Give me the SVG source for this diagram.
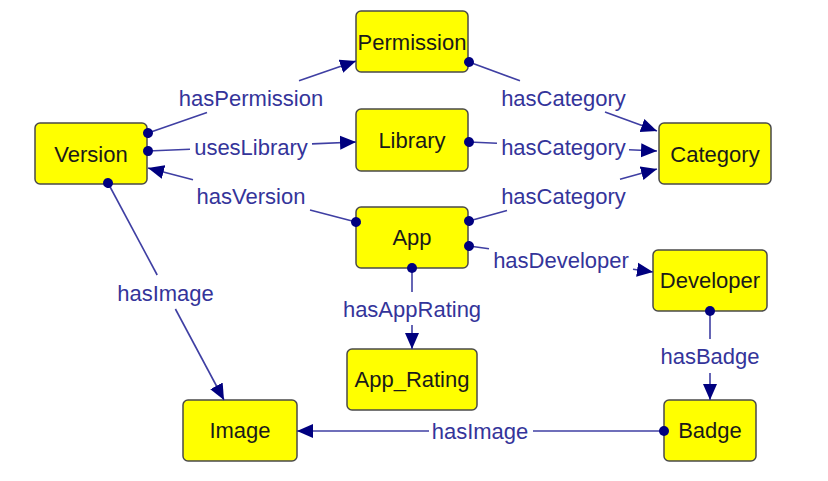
<svg xmlns="http://www.w3.org/2000/svg" width="828" height="481" viewBox="0 0 828 481">
<defs>
<style>
.node rect{fill:#ffff00;stroke:#4a4a4a;stroke-width:1.5}
.node text{font-family:"Liberation Sans",Arial,sans-serif;font-size:22px;fill:#1a1a1a;text-anchor:middle}
.edge path{fill:none;stroke:#3f3fa3;stroke-width:1.6}
.lbl{font-family:"Liberation Sans",Arial,sans-serif;font-size:22px;fill:#34349a;text-anchor:middle}
.s{marker-start:url(#dot)}
.e{marker-end:url(#arr)}
</style>
<marker id="arr" markerUnits="userSpaceOnUse" markerWidth="16" markerHeight="16" viewBox="0 0 16 14" refX="16" refY="7" orient="auto">
<path d="M0,0 L16,7 L0,14 z" fill="#00007f"/>
</marker>
<marker id="dot" markerUnits="userSpaceOnUse" markerWidth="12" markerHeight="12" viewBox="0 0 12 12" refX="6" refY="6" orient="auto">
<circle cx="6" cy="6" r="5" fill="#00007f"/>
</marker>
</defs>
<rect width="828" height="481" fill="#ffffff"/>
<g id="node-version" class="node"><rect x="35" y="123" width="112" height="61" rx="5"/><text x="91" y="162">Version</text></g>
<g id="node-permission" class="node"><rect x="356" y="11" width="112" height="61" rx="5"/><text x="412" y="50">Permission</text></g>
<g id="node-library" class="node"><rect x="356" y="109" width="112" height="62" rx="5"/><text x="412" y="148">Library</text></g>
<g id="node-app" class="node"><rect x="356" y="207" width="112" height="61" rx="5"/><text x="412" y="245">App</text></g>
<g id="node-category" class="node"><rect x="659" y="123" width="112" height="61" rx="5"/><text x="715" y="162">Category</text></g>
<g id="node-developer" class="node"><rect x="653" y="250" width="114" height="61" rx="5"/><text x="710" y="288">Developer</text></g>
<g id="node-app-rating" class="node"><rect x="347" y="349" width="130" height="61" rx="5"/><text x="412" y="387">App_Rating</text></g>
<g id="node-image" class="node"><rect x="183" y="400" width="114" height="61" rx="5"/><text x="240" y="438">Image</text></g>
<g id="node-badge" class="node"><rect x="664" y="400" width="92" height="61" rx="5"/><text x="710" y="438">Badge</text></g>
<g id="connectors" class="edge">
<path class="s" d="M148,133 L207,112.6"/><path class="e" d="M299,80.8 L356,61"/>
<text class="lbl" x="251" y="106">hasPermission</text>
<path class="s" d="M148,151 L190,149.2"/><path class="e" d="M312,143.9 L356,142"/>
<text class="lbl" x="251" y="155">usesLibrary</text>
<path class="s" d="M356,222 L310,210"/><path class="e" d="M193,179.7 L148,168"/>
<text class="lbl" x="251" y="204">hasVersion</text>
<path class="s" d="M108,183 L157.2,275"/><path class="e" d="M175.4,309 L224,400"/>
<text class="lbl" x="165.5" y="301">hasImage</text>
<path class="s" d="M469,62 L520,80.7"/><path class="e" d="M605,111.9 L657,131"/>
<text class="lbl" x="563.5" y="106">hasCategory</text>
<path class="s" d="M469,142 L497,143.3"/><path class="e" d="M629,149.7 L657,151"/>
<text class="lbl" x="563.5" y="155">hasCategory</text>
<path class="s" d="M469,221 L507,210.5"/><path class="e" d="M620,179.2 L657,169"/>
<text class="lbl" x="563.5" y="204">hasCategory</text>
<path class="s" d="M469,246 L489,248.8"/><path class="e" d="M633,269.2 L653,272"/>
<text class="lbl" x="561" y="268">hasDeveloper</text>
<path class="s" d="M412,268 L412,292"/><path class="e" d="M412,325 L412,349"/>
<text class="lbl" x="412" y="317">hasAppRating</text>
<path class="s" d="M710,311 L710,339"/><path class="e" d="M710,373 L710,400"/>
<text class="lbl" x="710" y="364">hasBadge</text>
<path class="s" d="M664,431 L533,431"/><path class="e" d="M429,431 L297,431"/>
<text class="lbl" x="480" y="439">hasImage</text>
</g>
</svg>
